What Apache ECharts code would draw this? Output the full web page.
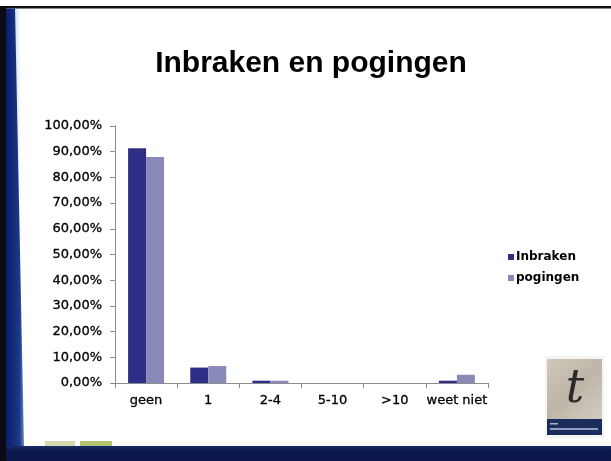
<!DOCTYPE html>
<html>
<head>
<meta charset="utf-8">
<script src="https://cdn.jsdelivr.net/npm/echarts@6/dist/echarts.min.js"></script>
<style>
html,body{margin:0;padding:0;background:#fff;}
#c{width:611px;height:461px;}
</style>
</head>
<body>
<div id="c"></div>
<script>
var categories = ['geen', '1', '2-4', '5-10', '>10', 'weet niet'];
var inbraken = [91.3, 6.0, 0.9, 0, 0, 0.9];
var pogingen = [87.9, 6.6, 0.9, 0, 0, 3.2];
var seriesNames = ['Inbraken', 'pogingen'];
var titleText = 'Inbraken en pogingen';

var chart = echarts.init(document.getElementById('c'), null, {renderer: 'canvas'});
var axisFont = 'DejaVu Sans';
var option = {
  backgroundColor: '#ffffff',
  animation: false,
  grid: {left: 115, top: 126, right: 123, bottom: 78, containLabel: false},
  legend: {
    orient: 'vertical',
    left: 503,
    top: 246,
    itemWidth: 6,
    itemHeight: 6,
    itemGap: 9,
    icon: 'rect',
    data: seriesNames,
    textStyle: {fontFamily: axisFont, fontSize: 12, fontWeight: 'bold', color: '#000', padding: [0, 0, 0, -3]}
  },
  xAxis: {
    type: 'category',
    data: categories,
    axisLine: {show: true, lineStyle: {color: '#8c8c8c', width: 1}},
    axisTick: {show: true, length: 5, lineStyle: {color: '#8c8c8c'}, alignWithLabel: false},
    axisLabel: {fontFamily: axisFont, fontSize: 13, color: '#000', margin: 11, interval: 0,
      textBorderColor: '#000', textBorderWidth: 0.3}
  },
  yAxis: {
    type: 'value',
    min: 0,
    max: 100,
    interval: 10,
    axisLine: {show: true, lineStyle: {color: '#8c8c8c', width: 1}},
    axisTick: {show: true, length: 5, lineStyle: {color: '#8c8c8c'}},
    splitLine: {show: false},
    axisLabel: {
      fontFamily: axisFont, fontSize: 13, color: '#000', margin: 13,
      textBorderColor: '#000', textBorderWidth: 0.3,
      formatter: function (v) { return v.toFixed(2).replace('.', ',') + '%'; }
    }
  },
  series: [
    {name: seriesNames[0], type: 'bar', data: inbraken, barWidth: 18, barGap: '0%', itemStyle: {color: '#2e2e87'}},
    {name: seriesNames[1], type: 'bar', data: pogingen, barWidth: 18, barGap: '0%', itemStyle: {color: '#8a8ab8'}}
  ],
  graphic: [
    {type: 'rect', shape: {x: 0, y: 6, width: 611, height: 2.5}, style: {fill: '#111'}, z: 10},
    {type: 'rect', shape: {x: 0, y: 6, width: 6, height: 455}, style: {fill: '#0a0a14'}, z: 10},
    {type: 'polygon', shape: {points: [[6, 8.5], [15, 8.5], [24, 446], [6, 446]]},
      style: {fill: new echarts.graphic.LinearGradient(0, 0, 1, 0, [
        {offset: 0, color: '#0b1e6a'}, {offset: 0.75, color: '#1b3a8a'}, {offset: 1, color: '#6d86c0'}])}, z: 10},
    {type: 'rect', shape: {x: 15, y: 8.5, width: 8, height: 437},
      style: {fill: new echarts.graphic.LinearGradient(0, 0, 1, 0, [
        {offset: 0, color: 'rgba(170,190,230,0.6)'}, {offset: 1, color: 'rgba(255,255,255,0)'}])}, z: 9},
    {type: 'rect', shape: {x: 45, y: 441, width: 30, height: 5}, style: {fill: '#d8d8b0'}, z: 9},
    {type: 'rect', shape: {x: 80, y: 441, width: 32, height: 5}, style: {fill: '#b4c46e'}, z: 9},
    {type: 'rect', shape: {x: 6, y: 446, width: 605, height: 15},
      style: {fill: new echarts.graphic.LinearGradient(0, 0, 0, 1, [
        {offset: 0, color: '#1a2a66'}, {offset: 0.3, color: '#0c1a52'}, {offset: 1, color: '#0a1648'}])}, z: 10},
    {type: 'text', x: 311, y: 64,
      style: {text: titleText, fontFamily: '"Liberation Sans", Arial, sans-serif',
        fontSize: 30, fontWeight: 'bold', fill: '#000', align: 'center', verticalAlign: 'middle'}, z: 10},
    {type: 'rect', shape: {x: 545, y: 356, width: 59, height: 82}, style: {fill: '#f4f4f2'}, z: 10},
    {type: 'rect', shape: {x: 547, y: 359, width: 55, height: 60},
      style: {fill: new echarts.graphic.LinearGradient(0, 0, 1, 1, [
        {offset: 0, color: '#cfc9bc'}, {offset: 0.5, color: '#bdb5a8'}, {offset: 1, color: '#d2ccc0'}])}, z: 11},
    {type: 'text', x: 575, y: 390,
      style: {text: 't', fontFamily: '"DejaVu Serif", serif', fontStyle: 'italic', fontSize: 46,
        fill: '#2a2a2a', align: 'center', verticalAlign: 'middle'}, z: 12},
    {type: 'rect', shape: {x: 547, y: 419, width: 55, height: 16}, style: {fill: '#1b2d5c'}, z: 11},
    {type: 'rect', shape: {x: 550, y: 423, width: 8, height: 1.5}, style: {fill: '#a8b4cc'}, z: 12},
    {type: 'rect', shape: {x: 550, y: 428, width: 48, height: 2}, style: {fill: '#8fa0c0'}, z: 12}
  ]
};
chart.setOption(option);
</script>
</body>
</html>
